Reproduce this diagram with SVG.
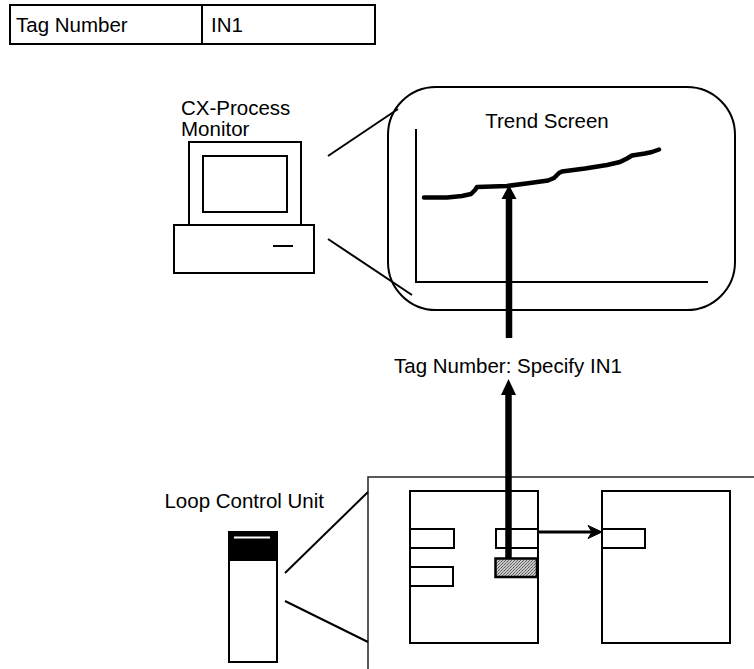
<svg xmlns="http://www.w3.org/2000/svg" width="754" height="669" viewBox="0 0 754 669">
  <style>
    .lbl { font-family: "Liberation Sans", Arial, Helvetica, sans-serif; font-size: 20.5px; fill: #000; }
    .ln { fill: none; stroke: #000; stroke-width: 2; }
    .box { fill: #fff; stroke: #000; stroke-width: 2; }
    .thin { fill: none; stroke: #222; stroke-width: 1.5; }
    .trend { fill: none; stroke: #000; stroke-width: 4.5; stroke-linejoin: round; stroke-linecap: round; }
    .bigarrow { stroke: #000; stroke-width: 6.5; }
  </style>
  <defs>
    <pattern id="hatch" width="3" height="3" patternUnits="userSpaceOnUse">
      <rect width="3" height="3" fill="#c8c8c8"/>
      <rect width="1" height="1" fill="#555"/>
      <rect x="2" y="1" width="1" height="1" fill="#777"/>
      <rect x="1" y="2" width="1" height="1" fill="#666"/>
    </pattern>
  </defs>

  <rect width="754" height="669" fill="#fff"/>

  <!-- tag number table -->
  <g id="tag-table">
    <rect x="10" y="5" width="365" height="39" class="box"/>
    <line x1="202" y1="5" x2="202" y2="44" class="ln" stroke-width="1.5"/>
    <text x="16" y="32" class="lbl">Tag Number</text>
    <text x="211" y="32" class="lbl">IN1</text>
  </g>

  <!-- monitoring computer -->
  <g id="monitor">
    <text x="181" y="115" class="lbl">CX-Process</text>
    <text x="181" y="136" class="lbl">Monitor</text>
    <rect x="189" y="142" width="112" height="83" class="box"/>
    <rect x="203" y="156" width="84" height="56" class="box"/>
    <rect x="174" y="225" width="140" height="48" class="box"/>
    <line x1="273" y1="246" x2="293" y2="246" class="ln"/>
  </g>

  <!-- magnified trend screen -->
  <g id="trend-screen">
    <rect x="388" y="87" width="347" height="223" rx="48" ry="48" class="box"/>
    <text x="547" y="128" class="lbl" text-anchor="middle">Trend Screen</text>
    <polyline points="416,129 416,282 708,282" class="ln"/>
    <polyline class="trend" points="424,197.5 447,197.5 462,196 471,194 475,190 477,187 507,186 530,183 548,180.5 554,178 559,173 562,171.5 585,168.5 607,165 620,162 627,158.5 632,155.5 645,153.5 652,152 659,149.5"/>
  </g>

  <!-- loop control unit device -->
  <g id="loop-control-unit">
    <text x="324" y="508" class="lbl" text-anchor="end">Loop Control Unit</text>
    <rect x="229" y="532" width="48" height="130" class="box"/>
    <rect x="229" y="532" width="48" height="29" fill="#000"/>
    <line x1="234" y1="537.5" x2="270" y2="537.5" stroke="#fff" stroke-width="2"/>
  </g>

  <!-- function block panel -->
  <g id="block-panel">
    <polyline points="368,669 368,477 754,477" class="thin"/>
  </g>

  <g id="block-in">
    <rect x="410" y="491" width="128" height="152" class="box"/>
    <rect x="410" y="529" width="44" height="19" class="box"/>
    <rect x="410" y="567" width="43" height="19" class="box"/>
    <rect x="496" y="529" width="42" height="19" class="box"/>
    <rect x="495.5" y="558.5" width="41.5" height="18.5" fill="url(#hatch)" stroke="#000" stroke-width="2.5"/>
  </g>

  <g id="block-out">
    <rect x="602" y="491" width="128" height="152" class="box"/>
    <rect x="602" y="529" width="43" height="19" class="box"/>
  </g>

  <!-- connectors -->
  <g id="connectors">
    <!-- zoom guides -->
    <line x1="328" y1="156" x2="398" y2="109" class="ln"/>
    <line x1="328" y1="239" x2="412" y2="295" class="ln"/>
    <line x1="285" y1="573" x2="368" y2="492" class="ln"/>
    <line x1="285" y1="601" x2="368" y2="642" class="ln"/>
    <!-- tag reference arrows -->
    <line x1="509" y1="338" x2="509" y2="196" class="bigarrow"/>
    <polygon points="509,185 501.5,199 516.5,199" fill="#000"/>
    <line x1="508.5" y1="558" x2="508.5" y2="392" class="bigarrow"/>
    <polygon points="508.5,379 501,395 516,395" fill="#000"/>
    <!-- block link -->
    <line x1="538" y1="532" x2="594" y2="532" stroke="#000" stroke-width="3"/>
    <polygon points="602,532 588,525.5 592,532 588,538.5" fill="#000" stroke="#000" stroke-width="1" stroke-linejoin="round"/>
  </g>

  <text x="394" y="373" class="lbl">Tag Number: Specify IN1</text>
</svg>
